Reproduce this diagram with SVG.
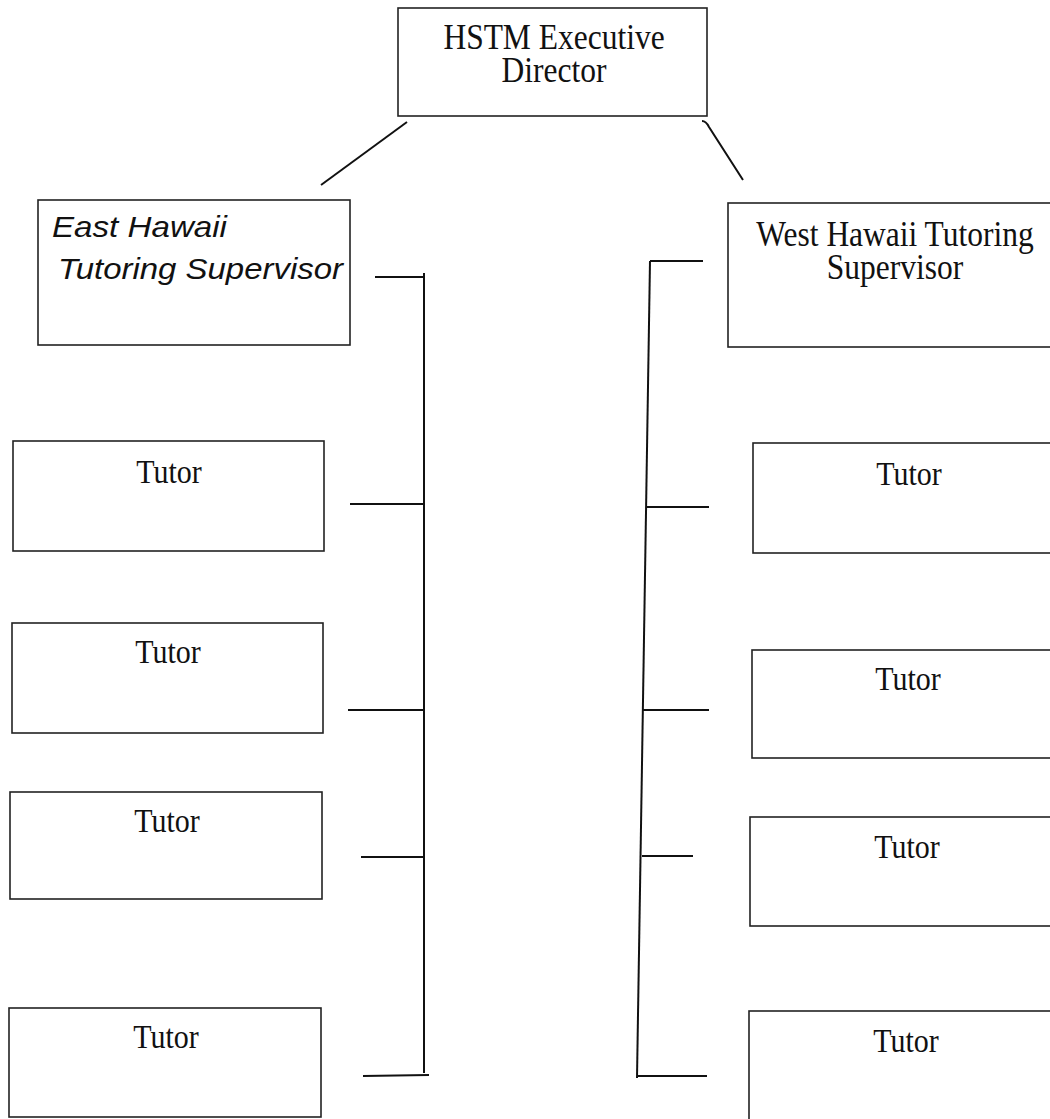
<svg xmlns="http://www.w3.org/2000/svg" width="1050" height="1119" viewBox="0 0 1050 1119">
<style>
.box{fill:#fff;stroke:#222;stroke-width:1.6}
.t{font-family:"Liberation Serif","Times New Roman",serif;font-size:31.5px;fill:#111;text-anchor:middle}
.tu{font-family:"Liberation Serif","Times New Roman",serif;font-size:30px;fill:#111;text-anchor:middle}
.hw{font-family:"Liberation Sans","DejaVu Sans",sans-serif;font-style:italic;font-size:30px;fill:#111}
.c{stroke:#111;stroke-width:2;fill:none;stroke-linecap:butt}
</style>
<rect width="1050" height="1119" fill="#fff"/>
<g id="connectors">
<path class="c" d="M407,122 L321,185"/>
<path class="c" d="M702,121 C705,121 707,123 709,127 L743,180"/>
<path class="c" d="M375,277 L424,277"/>
<path class="c" d="M424,273 L424,1073"/>
<path class="c" d="M350,504 L424,504"/>
<path class="c" d="M348,710 L424,710"/>
<path class="c" d="M361,857 L424,857"/>
<path class="c" d="M363,1076 L429,1075"/>
<path class="c" d="M650,261 L703,261"/>
<path class="c" d="M650,261 L637,1078"/>
<path class="c" d="M647,507 L709,507"/>
<path class="c" d="M643,710 L709,710"/>
<path class="c" d="M642,856 L693,856"/>
<path class="c" d="M637,1076 L707,1076"/>
</g>
<g id="director">
<rect class="box" x="398" y="8" width="309" height="108"/>
<text class="t" transform="translate(554,49) scale(1,1.13)">HSTM Executive</text>
<text class="t" transform="translate(554,82) scale(1,1.13)">Director</text>
</g>
<g id="east-supervisor">
<rect class="box" x="38" y="200" width="312" height="145"/>
<text class="hw" x="52" y="237" textLength="175" lengthAdjust="spacingAndGlyphs">East Hawaii</text>
<text class="hw" x="58" y="279" textLength="285" lengthAdjust="spacingAndGlyphs">Tutoring Supervisor</text>
</g>
<g id="west-supervisor">
<rect class="box" x="728" y="203" width="340" height="144"/>
<text class="t" transform="translate(895,246) scale(1,1.13)">West Hawaii Tutoring</text>
<text class="t" transform="translate(895,279) scale(1,1.13)">Supervisor</text>
</g>
<g id="east-tutor-1">
<rect class="box" x="13" y="441" width="311" height="110"/>
<text class="tu" transform="translate(169,483) scale(1,1.1)">Tutor</text>
</g>
<g id="east-tutor-2">
<rect class="box" x="12" y="623" width="311" height="110"/>
<text class="tu" transform="translate(168,663) scale(1,1.1)">Tutor</text>
</g>
<g id="east-tutor-3">
<rect class="box" x="10" y="792" width="312" height="107"/>
<text class="tu" transform="translate(167,832) scale(1,1.1)">Tutor</text>
</g>
<g id="east-tutor-4">
<rect class="box" x="9" y="1008" width="312" height="109"/>
<text class="tu" transform="translate(166,1048) scale(1,1.1)">Tutor</text>
</g>
<g id="west-tutor-1">
<rect class="box" x="753" y="443" width="320" height="110"/>
<text class="tu" transform="translate(909,485) scale(1,1.1)">Tutor</text>
</g>
<g id="west-tutor-2">
<rect class="box" x="752" y="650" width="320" height="108"/>
<text class="tu" transform="translate(908,690) scale(1,1.1)">Tutor</text>
</g>
<g id="west-tutor-3">
<rect class="box" x="750" y="817" width="320" height="109"/>
<text class="tu" transform="translate(907,858) scale(1,1.1)">Tutor</text>
</g>
<g id="west-tutor-4">
<rect class="box" x="749" y="1011" width="320" height="110"/>
<text class="tu" transform="translate(906,1052) scale(1,1.1)">Tutor</text>
</g>
</svg>
